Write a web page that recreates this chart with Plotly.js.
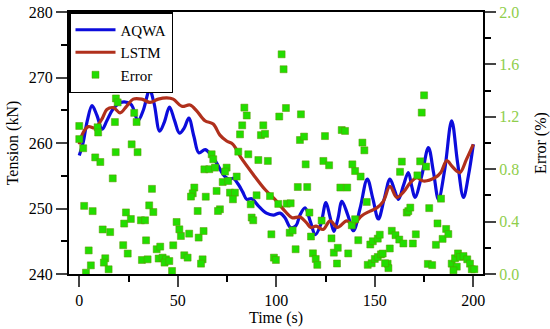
<!DOCTYPE html>
<html>
<head>
<meta charset="utf-8">
<script src="https://cdn.plot.ly/plotly-3.0.1.min.js"></script>
<style>html,body{margin:0;padding:0;background:#fff;}#chart{width:550px;height:329px;}</style>
</head>
<body>
<div id="chart"></div>
<script>
// AQWA tension (kN)
const aqwaTime = [0, 2, 4, 6.5, 9, 11.6, 14, 17, 21, 26.2, 29.8, 32.5, 35.7, 38, 40.8, 43.2, 45.8, 48.3, 50.9, 53.3, 55.6, 58.2, 60.7, 63.9, 66.5, 70, 73, 75.8, 78.2, 80.7, 83, 85, 87.5, 90.9, 95, 98.5, 101.9, 104.4, 107.2, 110, 112, 114.6, 117.3, 119.8, 122.5, 125.2, 127.2, 129.2, 131.3, 133.3, 136.3, 139.2, 142.5, 146.2, 149, 151.8, 154.8, 157.7, 160, 162, 164.5, 167, 168.8, 170.4, 173.8, 177.2, 179.8, 182.3, 185.5, 189, 192, 195, 197.5, 200];
const aqwaTension = [258.1, 260.1, 263.3, 265.7, 264.2, 262.1, 263.4, 265.1, 266.2, 265.9, 263.4, 265, 268.1, 266, 261.8, 263.2, 265.5, 263.5, 261.5, 262.3, 263.8, 261, 258.5, 259.0, 258.3, 256.8, 255.2, 254.5, 254.6, 253.7, 252.5, 251.4, 251.5, 250.4, 249.3, 249.0, 249.3, 248.6, 247.1, 247.4, 249.0, 250.1, 248, 246.0, 247.5, 250.9, 248.8, 246.5, 248.5, 251.1, 249, 246.6, 250, 254.5, 251.5, 248.4, 251.5, 254.5, 252.8, 251.4, 253.5, 255.5, 253.3, 251.7, 255, 259.3, 255.5, 251.4, 256, 263.4, 257, 251.7, 255, 259.8];

// LSTM tension (kN)
const lstmTime = [0, 2, 4.6, 8, 11.4, 14, 17.3, 20.7, 24, 27.4, 31.7, 35.9, 40.1, 44.4, 47.7, 52, 56.2, 59.6, 63.8, 68, 71.4, 74.8, 78, 82, 88.3, 94.3, 99.3, 104.4, 108, 112, 115.4, 117.5, 120.2, 123.8, 127.3, 131, 135.7, 139, 143.4, 147.6, 151, 154.3, 157.7, 161.1, 164.5, 167.9, 171.3, 174.6, 180.6, 183.5, 186.5, 189, 191.6, 193.3, 196.5, 200];
const lstmTension = [259.8, 261.6, 262.5, 262.3, 263.6, 265.1, 265.4, 264.6, 265.6, 266.7, 266.7, 266.2, 266.7, 266.9, 266.7, 265.6, 265.8, 264.9, 263.4, 262.9, 261.2, 260.3, 259.8, 257.8, 255.2, 252.9, 251.4, 249.6, 248.6, 248.7, 247.8, 247.1, 247.3, 246.8, 248.1, 247.1, 248.1, 247.6, 248.9, 249.6, 250.1, 251.1, 253.4, 251.7, 252.5, 253.9, 254.7, 254.2, 254.7, 255.5, 257.3, 256.5, 255.7, 255.5, 257.5, 259.8];

// Error (%)
const errTime = [0, 0, 2, 9.3, 9.6, 8.1, 10.7, 18.6, 19.5, 18.1, 27.9, 29.1, 18.5, 26.6, 29.6, 17, 2.5, 6.8, 11.9, 15.7, 4.8, 5.9, 3.4, 13.2, 12.5, 14.9, 23.7, 22.8, 26.2, 31.3, 33.4, 22.3, 24.6, 33.9, 31.8, 34.7, 36.9, 35.5, 37.6, 39.3, 41.1, 40.3, 42.3, 44, 43.3, 45.7, 47.1, 47.7, 49.4, 50.8, 51.6, 55.8, 53.3, 55, 60.6, 63.1, 62.6, 61.8, 58.4, 57.6, 56.7, 64.2, 60.1, 63.5, 67.2, 68, 66, 68.9, 74.8, 74, 72.8, 75.6, 79.9, 80.7, 85.8, 90.9, 95.7, 69.7, 76.5, 79, 78, 71.4, 70.4, 87, 90, 96.8, 101, 87.5, 88.3, 97.5, 98.8, 99.8, 83.8, 85, 82.7, 81.6, 92.2, 93.4, 94.3, 102.7, 103.7, 104.9, 101.5, 112.5, 112, 114.1, 114.9, 123.9, 126.8, 124.7, 133.2, 134.9, 143.7, 144.7, 138.6, 140, 142.8, 132.5, 136, 163.7, 162.8, 173, 176, 171.6, 175, 173.8, 105.3, 107.3, 110.9, 115.7, 116.8, 145.9, 106.8, 108.3, 117.6, 123, 128, 109.8, 118.6, 120, 120.8, 129.2, 131.2, 130.8, 136.5, 138.3, 140, 141.6, 147.7, 149, 146.4, 148.4, 150, 151.5, 153.1, 151.5, 152.5, 156.5, 156.9, 158.6, 157.6, 160.5, 162.4, 164.5, 169.3, 170.8, 166.2, 167, 168, 177.6, 181.8, 181, 184.4, 186.2, 187.3, 176.9, 179.1, 183.6, 189, 190.7, 192.2, 193.3, 195, 196.9, 198.3, 191.6, 199.2, 200.5, 189.9, 154, 155.2];
const errValue = [1.13, 1.03, 0.96, 1.12, 1.08, 0.89, 0.855, 1.34, 1.31, 1.16, 1.23, 1.16, 0.93, 0.99, 0.93, 0.73, 0.52, 0.48, 0.34, 0.32, 0.18, 0.066, 0.01, 0.12, 0.087, 0.036, 0.47, 0.385, 0.42, 0.41, 0.41, 0.22, 0.156, 0.257, 0.107, 0.112, 0.65, 0.524, 0.473, 0.189, 0.209, 0.118, 0.125, 0.112, 0.087, 0.099, 0.023, 0.219, 0.397, 0.341, 0.29, 0.308, 0.143, 0.125, 0.278, 0.328, 0.112, 0.079, 0.66, 0.616, 0.591, 0.59, 0.481, 0.799, 0.914, 0.876, 0.80, 0.812, 0.812, 0.782, 0.702, 0.71, 0.744, 0.934, 0.914, 0.87, 0.863, 0.634, 0.621, 0.621, 0.57, 0.494, 0.481, 0.532, 0.601, 0.595, 0.535, 0.431, 0.41, 0.303, 0.125, 0.107, 1.27, 1.21, 1.135, 1.066, 1.06, 1.135, 1.07, 1.677, 1.563, 1.267, 1.202, 1.219, 1.023, 1.049, 0.837, 0.863, 0.83, 1.053, 1.099, 1.092, 1.003, 0.944, 0.837, 0.786, 0.744, 0.66, 0.66, 0.858, 0.78, 0.86, 0.82, 0.753, 1.364, 1.232, 0.537, 0.54, 0.664, 0.664, 0.469, 0.55, 0.315, 0.333, 0.286, 0.408, 0.272, 0.189, 0.158, 0.115, 0.07, 0.163, 0.2, 0.08, 0.157, 0.372, 0.418, 0.258, 0.225, 0.25, 0.07, 0.082, 0.115, 0.13, 0.15, 0.27, 0.30, 0.079, 0.045, 0.33, 0.195, 0.296, 0.263, 0.233, 0.233, 0.303, 0.469, 0.48, 0.507, 0.503, 0.386, 0.223, 0.268, 0.344, 0.305, 0.077, 0.068, 0.575, 0.079, 0.12, 0.157, 0.13, 0.137, 0.112, 0.079, 0.056, 0.036, 0.036, 0.028, 0.156, 0.082];

const FONT = 'Liberation Serif, Times New Roman, serif';

const traces = [
  {x: aqwaTime, y: aqwaTension, name: 'AQWA', type: 'scatter', mode: 'lines',
   line: {color: '#0c0cdc', width: 3.2, shape: 'spline', smoothing: 1}},
  {x: lstmTime, y: lstmTension, name: 'LSTM', type: 'scatter', mode: 'lines',
   line: {color: '#b0301c', width: 3.2, shape: 'spline', smoothing: 1}},
  {x: errTime, y: errValue, name: 'Error', type: 'scatter', mode: 'markers', yaxis: 'y2',
   marker: {symbol: 'square', size: 7, color: '#22dd00', line: {color: '#5e9400', width: 0.5}}}
];

const layout = {
  width: 550, height: 329,
  margin: {l: 69, r: 67, t: 12, b: 55},
  paper_bgcolor: '#fff', plot_bgcolor: '#fff',
  font: {family: FONT, size: 16, color: '#000'},
  showlegend: true,
  legend: {x: 0, y: 1, xanchor: 'left', yanchor: 'top', bgcolor: '#fff',
           bordercolor: '#000', borderwidth: 1.5, font: {family: FONT, size: 15, color: '#000'},
           itemwidth: 40},
  xaxis: {range: [-5.2, 204.9], tickvals: [0, 50, 100, 150, 200], ticks: 'outside', ticklen: 11, tickwidth: 2,
          minor: {tickvals: [25, 75, 125, 175], ticks: 'outside', ticklen: 6, tickwidth: 2, tickcolor: '#000'},
          showline: true, linewidth: 2, linecolor: '#000', mirror: true, showgrid: false, zeroline: false,
          tickfont: {family: FONT, size: 16, color: '#000'},
          title: {text: 'Time (s)', font: {family: FONT, size: 16, color: '#000'}, standoff: 2}},
  yaxis: {range: [240, 280], tickvals: [240, 250, 260, 270, 280], ticks: 'outside', ticklen: 11, tickwidth: 2,
          minor: {tickvals: [245, 255, 265, 275], ticks: 'outside', ticklen: 6, tickwidth: 2, tickcolor: '#000'},
          showline: true, linewidth: 2, linecolor: '#000', showgrid: false, zeroline: false,
          tickfont: {family: FONT, size: 16, color: '#000'},
          title: {text: 'Tension (kN)', font: {family: FONT, size: 16, color: '#000'}, standoff: 6}},
  yaxis2: {overlaying: 'y', side: 'right', range: [0, 2], tickvals: [0, 0.4, 0.8, 1.2, 1.6, 2.0],
           ticktext: ['0.0', '0.4', '0.8', '1.2', '1.6', '2.0'],
           ticks: 'outside', ticklen: 11, tickwidth: 2,
           minor: {tickvals: [0.2, 0.6, 1.0, 1.4, 1.8], ticks: 'outside', ticklen: 6, tickwidth: 2, tickcolor: '#000'},
           showline: true, linewidth: 2, linecolor: '#000', showgrid: false, zeroline: false,
           tickfont: {family: FONT, size: 16, color: '#8fce4c'},
           title: {text: 'Error (%)', font: {family: FONT, size: 16, color: '#000'}, standoff: 18}}
};

Plotly.newPlot('chart', traces, layout, {displayModeBar: false, staticPlot: true});
</script>
</body>
</html>
